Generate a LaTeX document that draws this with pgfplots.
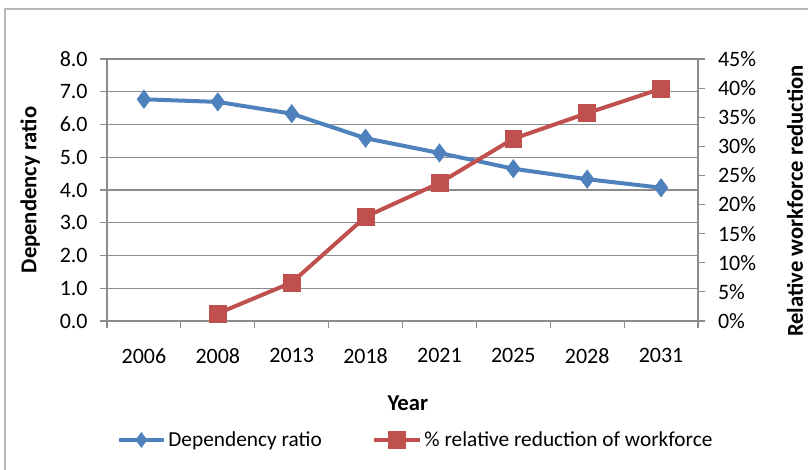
\documentclass[border=0pt]{standalone}
\usepackage{fontspec}
\setmainfont{Carlito}
\usepackage{pgfplots}
\pgfplotsset{compat=1.18}
\definecolor{serblue}{HTML}{4F81BD}
\definecolor{serred}{HTML}{C0504D}
\definecolor{gridgray}{HTML}{8C8C8C}
\begin{document}
\begin{tikzpicture}
\useasboundingbox (0,0) rectangle (606pt,351.75pt);
\draw[gray!55, line width=1pt] (3.75pt,-5pt) -- (3.75pt,345pt) -- (615pt,345pt);
\pgfplotsset{
  every axis/.append style={
    at={(80.25pt,111pt)}, anchor=south west,
    width=443.25pt, height=196.5pt, scale only axis,
    xmin=-0.5, xmax=7.5, ymin=0,
    tick label style={font=\fontsize{16.5}{19}\selectfont},
    label style={font=\bfseries\fontsize{17}{20}\selectfont},
    /pgf/number format/assume math mode=true,
    axis line style={gridgray, line width=0.9pt},
    tick style={gridgray, line width=0.9pt},
    tick align=outside, major tick length=5pt,
  },
  legend image code/.code={\draw[mark repeat=2,mark phase=2,#1] plot coordinates {(0pt,0pt)(17pt,0pt)(34pt,0pt)};},
}
\begin{axis}[
  axis y line*=left, axis x line*=bottom,
  ymax=8, ytick={0,1,...,8},
  yticklabel style={xshift=-6pt, /pgf/number format/.cd, fixed, fixed zerofill, precision=1},
  ymajorgrids, grid style={gridgray, line width=0.9pt},
  xtick={-0.5,0.5,...,7.5}, xticklabels={},
  extra x ticks={0,1,...,7},
  extra x tick labels={2006,2008,2013,2018,2021,2025,2028,2031},
  extra x tick style={major tick length=0pt, xticklabel style={yshift=-17pt}},
  xlabel={Year}, xlabel style={at={(axis description cs:0.509,-0.313)}, anchor=center},
  ylabel={Dependency ratio}, ylabel style={at={(axis description cs:-0.13,0.5)}, anchor=center},
]
\addplot[serblue, line width=3pt, mark=diamond*, mark size=6.8pt, mark options={solid, fill=serblue, line width=0.5pt}] coordinates {(0,6.77)(1,6.69)(2,6.33)(3,5.58)(4,5.13)(5,4.65)(6,4.33)(7,4.07)};
\end{axis}
\begin{axis}[
  axis y line*=right, axis x line=none,
  ymax=45, ytick={0,5,...,45},
  yticklabel={\pgfmathprintnumber{\tick}\%},
  yticklabel style={xshift=6.5pt},
  ylabel={Relative workforce reduction},
  ylabel style={at={(axis description cs:1.164,0.458)}, anchor=center},
  legend style={at={(axis description cs:0.523,-0.454)}, anchor=center, draw=none, fill=none, legend columns=2, font=\fontsize{16}{19}\selectfont, /tikz/every even column/.append style={column sep=36pt}},
  legend cell align=left,
]
\addlegendimage{serblue, line width=2.5pt, mark=diamond*, mark size=5.5pt, mark options={solid, fill=serblue, line width=0.5pt}}
\addlegendentry{Dependency ratio}
\addplot[serred, line width=3pt, mark=square*, mark size=6.3pt, mark options={solid, fill=serred, line width=0.5pt}] coordinates {(1,1.3)(2,6.6)(3,17.9)(4,23.7)(5,31.3)(6,35.7)(7,39.9)};
\addlegendentry{\% relative reduction of workforce}
\end{axis}
\end{tikzpicture}
\end{document}
